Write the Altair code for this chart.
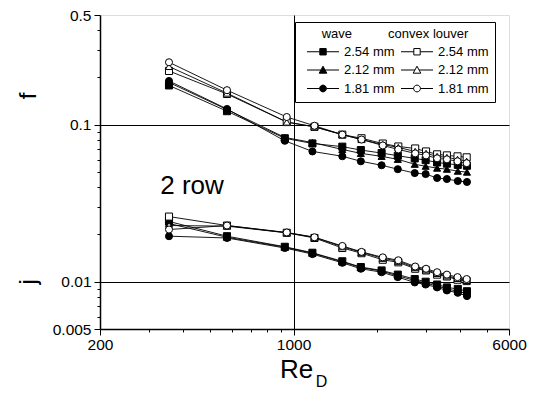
import altair as alt
import pandas as pd

# ---------------- data ----------------
re_wave = [355, 575, 930, 1170, 1500, 1750, 2080, 2380, 2740, 3000, 3300, 3580, 3920, 4230]
re_convex = [355, 575, 945, 1190, 1500, 1760, 2100, 2390, 2750, 3010, 3300, 3580, 3910, 4220]

series_keys = ["W 2.54 mm", "W 2.12 mm", "W 1.81 mm", "C 2.54 mm", "C 2.12 mm", "C 1.81 mm"]

f_wave_254 = [0.178, 0.122, 0.082, 0.076, 0.0725, 0.069, 0.066, 0.0635, 0.061, 0.0595, 0.0575, 0.0565, 0.0555, 0.0548]
f_wave_212 = [0.186, 0.125, 0.083, 0.077, 0.0696, 0.0657, 0.0629, 0.0602, 0.056, 0.0544, 0.0529, 0.0521, 0.0506, 0.0499]
f_wave_181 = [0.19, 0.126, 0.079, 0.0676, 0.063, 0.0585, 0.0552, 0.0521, 0.0492, 0.0485, 0.0458, 0.0451, 0.0438, 0.0432]
f_conv_254 = [0.22, 0.157, 0.104, 0.097, 0.0865, 0.082, 0.0759, 0.0727, 0.0706, 0.0676, 0.0648, 0.0638, 0.0629, 0.062]
f_conv_212 = [0.235, 0.159, 0.104, 0.097, 0.0865, 0.0805, 0.0748, 0.0717, 0.0676, 0.0657, 0.0629, 0.062, 0.0602, 0.0585]
f_conv_181 = [0.25, 0.166, 0.112, 0.0985, 0.0865, 0.0805, 0.0738, 0.0696, 0.0657, 0.0638, 0.0611, 0.0602, 0.0585, 0.0569]

j_wave_254 = [0.0242, 0.0195, 0.0167, 0.0153, 0.0135, 0.0124, 0.0118, 0.0111, 0.0104, 0.0100, 0.0096, 0.0092, 0.0090, 0.0087]
j_wave_212 = [0.0235, 0.0192, 0.0166, 0.0152, 0.0134, 0.0123, 0.0117, 0.0109, 0.0102, 0.0098, 0.0094, 0.0090, 0.0087, 0.0084]
j_wave_181 = [0.0195, 0.0190, 0.0164, 0.0150, 0.0132, 0.0121, 0.0115, 0.0107, 0.0099, 0.0096, 0.0092, 0.0088, 0.0085, 0.0081]
j_conv_254 = [0.0260, 0.0228, 0.0205, 0.0190, 0.0164, 0.0152, 0.0138, 0.0133, 0.0121, 0.0118, 0.0111, 0.0108, 0.0103, 0.0101]
j_conv_212 = [0.0228, 0.0226, 0.0205, 0.0192, 0.0167, 0.0154, 0.0141, 0.0135, 0.0123, 0.0119, 0.0113, 0.0109, 0.0105, 0.0102]
j_conv_181 = [0.0215, 0.0228, 0.0206, 0.0192, 0.0169, 0.0155, 0.0143, 0.0137, 0.0125, 0.0121, 0.0115, 0.0111, 0.0107, 0.0104]

f_vals = {"W 2.54 mm": f_wave_254, "W 2.12 mm": f_wave_212, "W 1.81 mm": f_wave_181,
          "C 2.54 mm": f_conv_254, "C 2.12 mm": f_conv_212, "C 1.81 mm": f_conv_181}
j_vals = {"W 2.54 mm": j_wave_254, "W 2.12 mm": j_wave_212, "W 1.81 mm": j_wave_181,
          "C 2.54 mm": j_conv_254, "C 2.12 mm": j_conv_212, "C 1.81 mm": j_conv_181}

x_ticks = [200, 300, 400, 500, 600, 700, 800, 900, 1000, 2000, 3000, 4000, 5000, 6000]
y_ticks = [0.005, 0.006, 0.007, 0.008, 0.009, 0.01, 0.02, 0.03, 0.04, 0.05, 0.06, 0.07,
           0.08, 0.09, 0.1, 0.2, 0.3, 0.4, 0.5]

annot_re = [430]
annot_val = [0.0407]
annot_text = ["2 row"]

# ---------------- build tables ----------------
rows = []
for key in series_keys:
    xs = re_wave if key.startswith("W") else re_convex
    for q, vals in (("f", f_vals[key]), ("j", j_vals[key])):
        for x, v in zip(xs, vals):
            rows.append({"key": key, "qty": q, "re": x, "val": v, "line": key + q})
df = pd.DataFrame(rows)
annot = pd.DataFrame({"re": annot_re, "val": annot_val, "text": annot_text})

FONT = "Liberation Sans"
NB = "\u00a0"

plot_shapes = ["square", "triangle-up", "circle", "square", "triangle-up", "circle"]
fills = ["black", "black", "black", "white", "white", "white"]
strokes = ["black"] * 6

sq = "M-4,0H-0.8M0.8,0H4M-0.8,-0.8H0.8V0.8H-0.8Z"
tri = "M-4,0H-0.52M0.52,0H4M0,-0.95L0.95,0.8L-0.95,0.8Z"
circ = "M-4,0H-0.85M0.85,0H4M0.85,0A0.85,0.85 0 1,1 -0.85,0A0.85,0.85 0 1,1 0.85,0Z"
legend_shapes = [sq, tri, circ, sq, tri, circ]

xscale = alt.Scale(type="log", domain=[200, 6000], nice=False)
yscale = alt.Scale(type="log", domain=[0.005, 0.5], nice=False)

x_axis = alt.Axis(
    values=x_ticks, format="d",
    labelExpr="indexof([200,1000,6000], datum.value) >= 0 ? datum.label : ''",
    labelOverlap=False, labelFlush=False,
    grid=True, gridColor="black", gridWidth=1,
    gridOpacity={"condition": {"test": "datum.value == 1000", "value": 1}, "value": 0},
    tickSize={"condition": {"test": "indexof([200,1000,6000], datum.value) >= 0", "value": 6}, "value": 3},
    tickColor="black", tickWidth=1, domainColor="black", domainWidth=1.5,
    labelFont=FONT, labelFontSize=15.5, labelColor="black", labelPadding=2,
    title="Re", titleFont=FONT, titleFontSize=26, titleFontWeight="normal", titleColor="black",
    titleX=196, titleY=48, titleBaseline="alphabetic", titleAlign="center",
)
y_axis = alt.Axis(
    values=y_ticks,
    labelExpr="indexof([0.005,0.01,0.1,0.5], datum.value) >= 0 ? datum.value + '' : ''",
    labelOverlap=False, labelFlush=False,
    grid=True, gridColor="black", gridWidth=1,
    gridOpacity={"condition": {"test": "datum.value == 0.1 || datum.value == 0.01", "value": 1}, "value": 0},
    tickSize={"condition": {"test": "indexof([0.005,0.01,0.1,0.5], datum.value) >= 0", "value": 6}, "value": 3},
    tickColor="black", tickWidth=1, domainColor="black", domainWidth=1.5,
    labelFont=FONT, labelFontSize=15.5, labelColor="black", labelPadding=3,
    title="j" + NB * 27 + "f", titleFont=FONT, titleFontSize=24, titleFontWeight="normal",
    titleColor="black", titleAngle=270, titleX=-65, titleY=173,
    titleBaseline="alphabetic", titleAlign="center",
)

X_main = alt.X("re:Q", scale=xscale, axis=x_axis)
X_none = alt.X("re:Q", scale=xscale, axis=None)
Y = alt.Y("val:Q", scale=yscale, axis=y_axis)

lines = alt.Chart(df).mark_line(color="black", strokeWidth=0.9).encode(
    x=X_main, y=Y, detail="line:N"
)

points = alt.Chart(df).mark_point(filled=True, size=50, stroke="black", strokeWidth=1, opacity=1).encode(
    x=X_none, y=Y,
    shape=alt.Shape("key:N", scale=alt.Scale(domain=series_keys, range=plot_shapes), legend=None),
    fill=alt.Fill("key:N", scale=alt.Scale(domain=series_keys, range=fills), legend=None),
)

text = alt.Chart(annot).mark_text(font=FONT, fontSize=26, color="black", align="center", baseline="middle").encode(
    x=X_none, y=Y, text="text:N"
)

leg = alt.Legend(
    title="wave" + NB * 10 + "convex louver", titleAnchor="middle",
    orient="none", legendX=195, legendY=7, columns=2, columnPadding=0, rowPadding=4.5,
    symbolSize=64, symbolOffset=15.5, labelOffset=14.5,
    symbolStrokeColor="black", symbolStrokeWidth=1, symbolOpacity=1,
    labelExpr="substring(datum.label, 2)",
    labelFont=FONT, labelFontSize=13, labelColor="black",
    titleFont=FONT, titleFontSize=13, titleFontWeight="normal", titleColor="black",
    titlePadding=4, padding=6, strokeColor="black", fillColor="white",
)

D_axis = alt.Axis(
    orient="bottom",
    title="D", titleFont=FONT, titleFontSize=16, titleFontWeight="normal", titleColor="black",
    domain=False, ticks=False, labels=False, grid=False, titleX=221, titleY=57,
    titleBaseline="alphabetic", titlePadding=0,
)

legend_layer = alt.Chart(df).transform_filter("false").mark_point(
    filled=False, strokeWidth=1
).encode(
    x=alt.X("re:Q", scale=xscale, axis=D_axis), y=Y,
    shape=alt.Shape("key:N", scale=alt.Scale(domain=series_keys, range=legend_shapes), legend=leg),
    fill=alt.Fill("key:N", scale=alt.Scale(domain=series_keys, range=fills), legend=leg),
    stroke=alt.Stroke("key:N", scale=alt.Scale(domain=series_keys, range=strokes), legend=leg),
)

chart = alt.layer(lines, points, text, legend_layer).resolve_scale(
    shape="independent", fill="independent", stroke="independent"
).resolve_axis(x="independent").properties(
    width=409, height=314,
    autosize=alt.AutoSizeParams(type="none"),
    padding={"left": 92, "top": 7, "right": 20, "bottom": 62},
).configure_view(stroke="black", strokeWidth=1.5).configure(font=FONT)

chart.save("out.html", embed_options={"renderer": "svg", "actions": False})
